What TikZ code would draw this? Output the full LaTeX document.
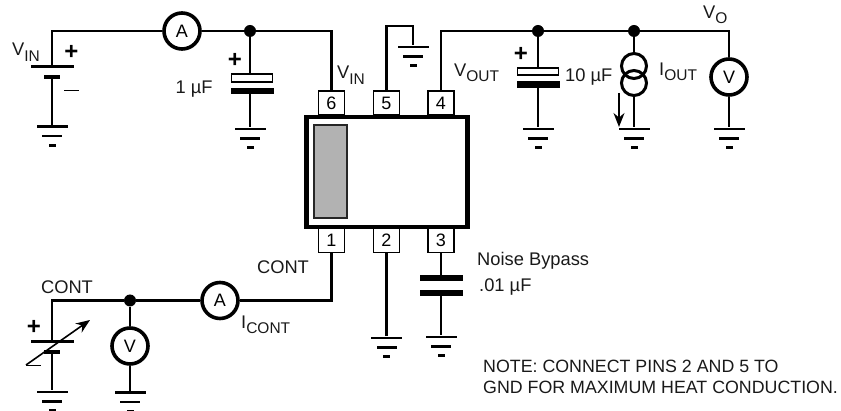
\documentclass[tikz,border=0pt]{standalone}
\usepackage{fontspec}
\setmainfont{Liberation Sans}
\usetikzlibrary{arrows.meta}
\newcommand{\lowtext}[1]{\raisebox{-5.5pt}{\fontsize{15.5}{18}\selectfont #1}}
\tikzstyle{wire} = [line width=2.4pt]
\tikzstyle{arrow} = [line width=1.6pt,-{Stealth[length=14pt,width=11pt]}]
\tikzstyle{label} = [inner sep=0pt, font=\fontsize{18.3}{20}\selectfont, text=black!90]
\tikzstyle{meter} = [circle, draw=black, line width=3.6pt, fill=white, minimum size=36pt, inner sep=0pt, font=\fontsize{18}{20}\selectfont]
\tikzstyle{pin} = [rectangle, draw=black, line width=1.8pt, fill=white, minimum width=26pt, minimum height=24pt, inner sep=0pt, font=\fontsize{18}{20}\selectfont]
\tikzstyle{dot} = [circle, fill=black, minimum size=12pt, inner sep=0pt]
\tikzstyle{bar} = [rectangle, fill=black, inner sep=0pt]
\tikzstyle{capwhite} = [rectangle, draw=black, line width=1.8pt, fill=white, minimum width=41pt, minimum height=7.5pt, inner sep=0pt]
\tikzstyle{capblack} = [bar, minimum width=43pt, minimum height=6.5pt]
\tikzstyle{plate} = [bar, minimum width=43pt, minimum height=2.8pt]
\tikzstyle{cell} = [bar, minimum width=16pt, minimum height=4.5pt]
\tikzstyle{plus} = [inner sep=0pt, font=\fontsize{24}{24}\selectfont\bfseries]

\begin{document}
\begin{tikzpicture}[x=1pt, y=-1pt]
\useasboundingbox (0,0) rectangle (841,411);

% Package body
\node[rectangle, draw=black, line width=4.8pt, fill=white, minimum width=161pt, minimum height=110pt, inner sep=0pt] (chip) at (387,172) {};
\node[rectangle, draw=black!85, line width=2pt, fill=black!30, minimum width=33pt, minimum height=93pt, inner sep=0pt] (tab) at (330,172) {};

% Pins
\node[pin] (pin6) at (331.5,103) {6};
\node[pin] (pin5) at (386.5,103) {5};
\node[pin] (pin4) at (441,103) {4};
\node[pin] (pin1) at (331.5,240.5) {1};
\node[pin] (pin2) at (386.5,240.5) {2};
\node[pin] (pin3) at (441,240.5) {3};

% Grounds
\foreach \name/\x/\y in {gndvin/52/126.5, gndcin/250/129, gndpin/413/47, gndcout/538/129, gndiout/634/129, gndvo/729/129, gndcont/52/392, gndvcont/130/392.5, gndtwo/386.5/338, gndbyp/441/337} {
  \node[bar, minimum width=31pt, minimum height=2.8pt] (\name) at (\x,\y) {};
  \node[bar, minimum width=20pt, minimum height=2.8pt] (\name b) at (\x,\y+9.5) {};
  \node[bar, minimum width=7pt, minimum height=3pt] (\name c) at (\x,\y+19) {};
}

% Input supply
\node[plate] (platein) at (52,66.5) {};
\node[cell] (cellin) at (52,77) {};
\node[meter] (ammin) at (182,31) {A};
\node[dot] (dotin) at (250,31) {};
\draw[wire] (platein) |- (ammin);
\draw[wire] (ammin) -- (dotin);
\draw[wire] (dotin) -| (pin6);
\draw[wire] (cellin) -- (gndvin);
\node[label] (vinleft) at (26,52) {V\lowtext{IN}};
\node[plus] (plusin) at (71.5,52) {+};
\draw[line width=1pt] (64,91) coordinate (minusa) -- (79,91) coordinate (minusb);

% Input capacitor
\node[capwhite] (capina) at (252,78) {};
\node[capblack] (capinb) at (252,91) {};
\draw[wire] (dotin) -- (dotin|-capina.north);
\draw[wire] (dotin|-capinb.south) -- (gndcin);
\node[plus] (pluscin) at (235,60) {+};
\node[label] (cinval) at (194,89) {1 µF};
\node[label] (vinpin) at (351,75) {V\lowtext{IN}};

% Pin 5 to ground
\draw[wire] (pin5) |- (413,26) coordinate (turn) -- (gndpin);

% Output side
\node[dot] (dotcout) at (538,31) {};
\node[dot] (dotiout) at (634,31) {};
\node[meter] (voltout) at (729,77) {V};
\draw[wire] (pin4) |- (dotcout);
\draw[wire] (dotcout) -- (dotiout);
\draw[wire] (dotiout) -| (voltout);
\draw[wire] (voltout) -- (gndvo);
\node[capwhite] (capouta) at (538,71.5) {};
\node[capblack] (capoutb) at (538,84.5) {};
\draw[wire] (dotcout) -- (capouta);
\draw[wire] (capoutb) -- (gndcout);
\node[plus] (pluscout) at (521,54) {+};
\node[label, anchor=west] (coutval) at (565,77) {10 µF};
\node[label, anchor=west] (voutpin) at (454,73) {V\lowtext{OUT}};
\node[label, anchor=west] (vo) at (703,15) {V\lowtext{O}};

% Output current source
\node[circle, draw=black, line width=3pt, minimum size=25pt, inner sep=0pt] (srca) at (634,66) {};
\node[circle, draw=black, line width=3pt, minimum size=25pt, inner sep=0pt] (srcb) at (634,83) {};
\draw[wire] (dotiout) -- (srca);
\draw[wire] (srcb) -- (gndiout);
\draw[arrow] (619,93) coordinate (ioutfrom) -- (619,127) coordinate (ioutto);
\node[label, anchor=west] (iout) at (659,72) {I\lowtext{OUT}};

% Control input
\node[plate] (platecont) at (52,341.5) {};
\node[cell] (cellcont) at (52,352) {};
\node[dot] (dotcont) at (130,300.5) {};
\node[meter] (ammcont) at (220,300.5) {A};
\node[meter] (voltcont) at (130,346) {V};
\draw[wire] (pin1) |- (ammcont);
\draw[wire] (ammcont) -- (dotcont);
\draw[wire] (dotcont) -| (platecont);
\draw[wire] (dotcont) -- (voltcont);
\draw[wire] (voltcont) -- (gndvcont);
\draw[wire] (cellcont) -- (gndcont);
\draw[arrow] (26,365) coordinate (trima) -- (90,320) coordinate (trimb);
\node[plus] (pluscont) at (34,327) {+};
\draw[line width=1pt] (26,366) coordinate (minusc) -- (41,366) coordinate (minusd);
\node[label] (contleft) at (67,287) {CONT};
\node[label] (contpin) at (283,267) {CONT};
\node[label, anchor=west] (icont) at (241,325) {I\lowtext{CONT}};

% Pins 2 and 3
\node[capblack] (bypa) at (441,278) {};
\node[capblack] (bypb) at (441,293) {};
\draw[wire] (pin2) -- (gndtwo);
\draw[wire] (pin3) -- (bypa);
\draw[wire] (bypb) -- (gndbyp);
\node[label, anchor=west] (noise) at (477,261) {Noise Bypass};
\node[label, anchor=west] (noiseval) at (479,287) {.01 µF};

% Note
\node[label, anchor=west, font=\fontsize{17.8}{20}\selectfont] (notea) at (483,366) {NOTE: CONNECT PINS 2 AND 5 TO};
\node[label, anchor=west, font=\fontsize{17.8}{20}\selectfont] (noteb) at (483,387) {GND FOR MAXIMUM HEAT CONDUCTION.};

\end{tikzpicture}
\end{document}
